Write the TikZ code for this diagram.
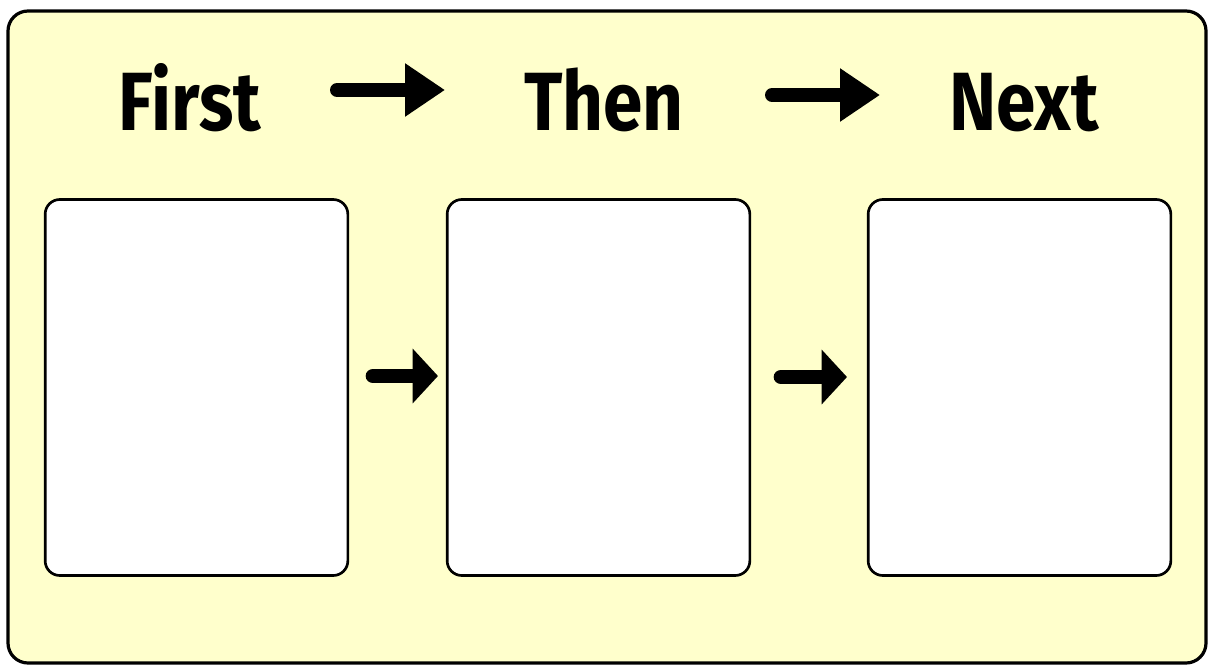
\documentclass[tikz,border=0pt]{standalone}
\usepackage{fontspec}
\setmainfont{Fira Sans}
\usetikzlibrary{arrows.meta}
\definecolor{paper}{HTML}{FFFFCC}
\tikzset{
  frame/.style={draw=black, line width=2.4pt, fill=paper, rounded corners=15pt},
  panel/.style={draw=black, line width=2pt, fill=white, rounded corners=11pt,
    minimum width=227pt, minimum height=282pt, inner sep=0pt},
  heading/.style={anchor=base, inner sep=0pt, xscale=0.86,
    font=\bfseries\fontsize{62}{70}\selectfont},
  toparrow/.style={line width=10.5pt, line cap=round,
    -{Triangle[length=30pt,width=38pt]}},
  midarrow/.style={line width=11pt, line cap=round,
    -{Triangle[length=19pt,width=40pt]}}
}
\begin{document}
\begin{tikzpicture}[x=0.75pt, y=-0.75pt]
\useasboundingbox (0,0) rectangle (1209,664);
% background card
\path[frame] (8,11) rectangle (1206,663);

% headings
\node[heading] (first) at (190,130) {First};
\node[heading] (then)  at (604,130) {Then};
\node[heading] (next)  at (1024,130) {Next};

% empty panels
\node[panel] (b1) at (196.5,387.5) {};
\node[panel] (b2) at (598.5,387.5) {};
\node[panel] (b3) at (1019.5,387.5) {};

% arrow end points
\coordinate (t1s) at (337,90);
\coordinate (t1e) at (445,90);
\coordinate (t2s) at (772,95);
\coordinate (t2e) at (880,95);
\coordinate (m1s) at (373,376);
\coordinate (m1e) at (438,376);
\coordinate (m2s) at (781,377);
\coordinate (m2e) at (847,377);

\draw[toparrow] (t1s) -- (t1e);
\draw[toparrow] (t2s) -- (t2e);
\draw[midarrow] (m1s) -- (m1e);
\draw[midarrow] (m2s) -- (m2e);
\end{tikzpicture}
\end{document}
